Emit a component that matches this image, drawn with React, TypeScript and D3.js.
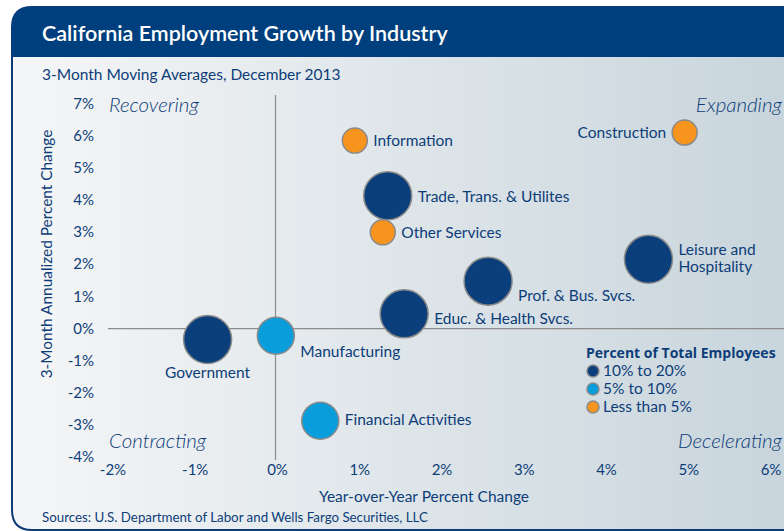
import React, { useRef, useEffect } from 'react';
import * as d3 from 'd3';

// industry bubbles: year-over-year change (x), 3-month annualized change (y)
const industries = ['Information', 'Construction', 'Trade, Trans. & Utilites', 'Other Services', 'Leisure and Hospitality', 'Prof. & Bus. Svcs.', 'Educ. & Health Svcs.', 'Manufacturing', 'Government', 'Financial Activities'];
const yoyChange = [0.94, 4.95, 1.34, 1.28, 4.51, 2.56, 1.54, -0.02, -0.85, 0.52];
const annualizedChange = [5.86, 6.11, 4.14, 3.0, 2.16, 1.48, 0.46, -0.22, -0.34, -2.87];
const sizeGroup = [2, 2, 0, 2, 0, 0, 0, 1, 0, 1];

const groupNames = ['10% to 20%', '5% to 10%', 'Less than 5%'];
const groupColors = ['#0b3f7b', '#0a9ddb', '#f7941e'];
const groupRadius = [24, 18.5, 12.5];

const xTicks = [-2, -1, 0, 1, 2, 3, 4, 5, 6];
const yTicks = [7, 6, 5, 4, 3, 2, 1, 0, -1, -2, -3, -4];

const navy = '#0d3d79';
const font = 'Lato, "Open Sans", sans-serif';

export default function App() {
    const ref = useRef<SVGSVGElement>(null);

    useEffect(() => {
        const width = 784;
        const svg = d3.select(ref.current);
        svg.selectAll('*').remove();

        const defs = svg.append('defs');
        const grad = defs.append('linearGradient').attr('id', 'bg').attr('x1', 0).attr('x2', 1).attr('y1', 0).attr('y2', 0);
        grad.append('stop').attr('offset', '0%').attr('stop-color', '#f5f6f7');
        grad.append('stop').attr('offset', '100%').attr('stop-color', '#c8d5dc');

        // frame: rounded left corners, header band
        const r = 20;
        const frame = `M${width + 5},7 L${12 + r},7 Q12,7 12,${7 + r} L12,${530 - r} Q12,530 ${12 + r},530 L${width + 5},530 Z`;
        svg.append('path').attr('d', frame).attr('fill', 'url(#bg)').attr('stroke', navy).attr('stroke-width', 2);
        const head = `M${width + 5},7 L${12 + r},7 Q12,7 12,${7 + r} L12,57 L${width + 5},57 Z`;
        svg.append('path').attr('d', head).attr('fill', '#003f7d');

        svg.append('text').attr('x', 42).attr('y', 41).attr('fill', 'white')
            .style('font-family', font).style('font-size', '21.5px').style('font-weight', 600)
            .text('California Employment Growth by Industry');

        svg.append('text').attr('x', 42).attr('y', 80).attr('fill', navy)
            .style('font-family', font).style('font-size', '15.5px')
            .text('3-Month Moving Averages, December 2013');

        const x = d3.scaleLinear().domain([-2, 6]).range([113, 771]);
        const y = d3.scaleLinear().domain([-4, 7]).range([457, 104]);

        // quadrant lines
        svg.append('line').attr('x1', 108).attr('x2', width).attr('y1', y(0)).attr('y2', y(0))
            .attr('stroke', '#8c8c8c').attr('stroke-width', 1.2);
        svg.append('line').attr('x1', x(0) - 2).attr('x2', x(0) - 2).attr('y1', 95).attr('y2', 460)
            .attr('stroke', '#8c8c8c').attr('stroke-width', 1.2);

        // tick labels
        svg.append('g').selectAll('text').data(yTicks).enter().append('text')
            .attr('x', 94).attr('y', d => y(d) + 5).attr('text-anchor', 'end').attr('fill', navy)
            .style('font-family', font).style('font-size', '15px')
            .text(d => d + '%');
        svg.append('g').selectAll('text').data(xTicks).enter().append('text')
            .attr('x', d => x(d)).attr('y', 475).attr('text-anchor', 'middle').attr('fill', navy)
            .style('font-family', font).style('font-size', '15px')
            .text(d => d + '%');

        svg.append('text').attr('transform', 'translate(52,254) rotate(-90)').attr('text-anchor', 'middle')
            .attr('fill', navy).style('font-family', font).style('font-size', '15.4px')
            .text('3-Month Annualized Percent Change');
        svg.append('text').attr('x', 424).attr('y', 502).attr('text-anchor', 'middle')
            .attr('fill', navy).style('font-family', font).style('font-size', '15.5px')
            .text('Year-over-Year Percent Change');
        svg.append('text').attr('x', 42).attr('y', 522)
            .attr('fill', navy).style('font-family', font).style('font-size', '13.3px')
            .text('Sources: U.S. Department of Labor and Wells Fargo Securities, LLC');

        // quadrant names
        const quad = [
            { t: 'Recovering', x: 109, y: 112, a: 'start' },
            { t: 'Expanding', x: 782, y: 112, a: 'end' },
            { t: 'Contracting', x: 109, y: 448, a: 'start' },
            { t: 'Decelerating', x: 782, y: 448, a: 'end' },
        ];
        svg.append('g').selectAll('text').data(quad).enter().append('text')
            .attr('x', d => d.x).attr('y', d => d.y).attr('text-anchor', d => d.a)
            .attr('fill', navy).style('font-family', font).style('font-size', '20.5px')
            .style('font-style', 'italic').style('font-weight', 300)
            .text(d => d.t);

        // bubbles
        svg.append('g').selectAll('circle').data(industries).enter().append('circle')
            .attr('cx', (d, i) => x(yoyChange[i]))
            .attr('cy', (d, i) => y(annualizedChange[i]))
            .attr('r', (d, i) => groupRadius[sizeGroup[i]])
            .attr('fill', (d, i) => groupColors[sizeGroup[i]])
            .attr('stroke', '#8a8a8a').attr('stroke-width', 1.5);

        // bubble labels, placed relative to each bubble
        const place: { dx: string; dy: number; anchor: string }[] = [
            { dx: 'right', dy: 5, anchor: 'start' },
            { dx: 'left', dy: 5, anchor: 'end' },
            { dx: 'right', dy: 6, anchor: 'start' },
            { dx: 'right', dy: 6, anchor: 'start' },
            { dx: 'right', dy: -4, anchor: 'start' },
            { dx: 'right', dy: 20, anchor: 'start' },
            { dx: 'right', dy: 10, anchor: 'start' },
            { dx: 'right', dy: 21, anchor: 'start' },
            { dx: 'below', dy: 38, anchor: 'middle' },
            { dx: 'right', dy: 4, anchor: 'start' },
        ];
        industries.forEach((name, i) => {
            const cx = x(yoyChange[i]);
            const cy = y(annualizedChange[i]);
            const rad = groupRadius[sizeGroup[i]];
            const p = place[i];
            const tx = p.dx === 'right' ? cx + rad + 6 : p.dx === 'left' ? cx - rad - 6 : cx;
            const lines = name === 'Leisure and Hospitality' ? ['Leisure and', 'Hospitality'] : [name];
            const t = svg.append('text').attr('x', tx).attr('y', cy + p.dy).attr('text-anchor', p.anchor)
                .attr('fill', navy).style('font-family', font).style('font-size', '15.5px');
            lines.forEach((ln, k) => {
                t.append('tspan').attr('x', tx).attr('dy', k === 0 ? 0 : 17).text(ln);
            });
        });

        // legend
        const lg = svg.append('g').attr('transform', 'translate(586,358)');
        lg.append('text').attr('x', 0).attr('y', 0).attr('fill', navy)
            .style('font-family', '"Open Sans", sans-serif').style('font-size', '14px').style('font-weight', 700)
            .text('Percent of Total Employees');
        const items = lg.selectAll('g.item').data(groupNames).enter().append('g')
            .attr('transform', (d, i) => `translate(0,${13 + i * 18})`);
        items.append('circle').attr('cx', 7).attr('cy', 0).attr('r', 6)
            .attr('fill', (d, i) => groupColors[i]).attr('stroke', '#8a8a8a').attr('stroke-width', 1.5);
        items.append('text').attr('x', 17).attr('y', 5).attr('fill', navy)
            .style('font-family', font).style('font-size', '15.5px')
            .text(d => d);
    }, []);

    return (
        <svg ref={ref} width={784} height={531} style={{ position: 'absolute', left: 0, top: 0 }} />
    );
}
